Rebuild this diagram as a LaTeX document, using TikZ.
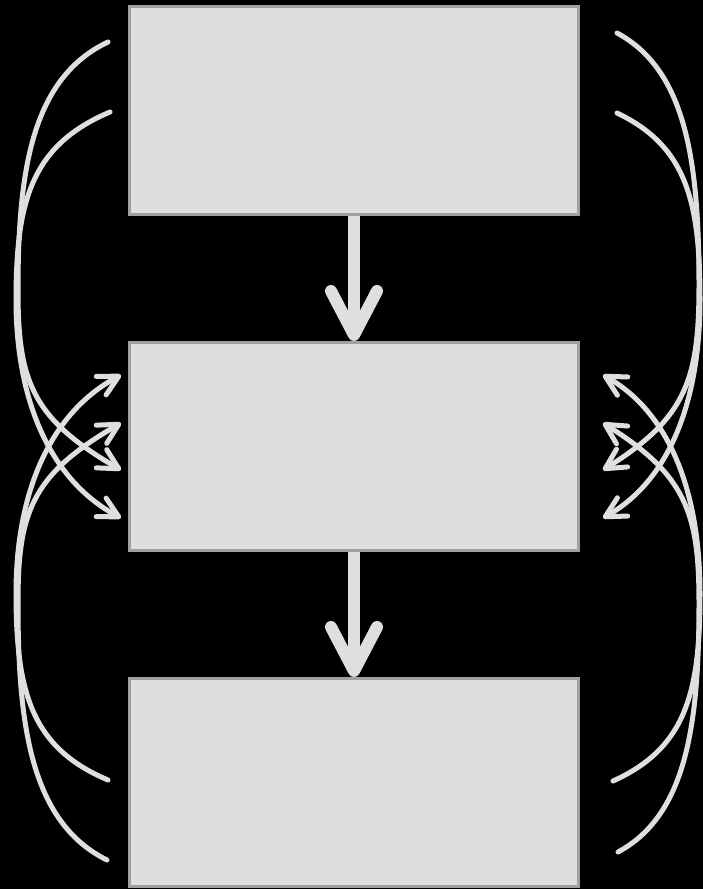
\documentclass[tikz,border=0pt]{standalone}
\usetikzlibrary{arrows.meta}
\definecolor{boxfill}{HTML}{DDDDDD}
\definecolor{boxline}{HTML}{A0A0A0}
\definecolor{linkc}{HTML}{DFDFDF}
\begin{document}
\begin{tikzpicture}[x=1pt,y=-1pt,
  box/.style={draw=boxline, fill=boxfill, line width=3pt, minimum width=449pt, minimum height=208pt, inner sep=0pt},
  flow/.style={draw=linkc, line width=12pt, -{Straight Barb[length=44pt,width=46pt,round]}},
  loopline/.style={draw=linkc, line width=5pt, line cap=round, -{Straight Barb[length=20pt,width=21pt,round]}}]
\fill[black] (0,0) rectangle (703,889);
\useasboundingbox (0,0) rectangle (703,889);
\node[box] (b1) at (354,110.5) {};
\node[box] (b2) at (354,446.5) {};
\node[box] (b3) at (354,782.5) {};
\draw[flow] (b1.south) -- (b2.north);
\draw[flow] (b2.south) -- (b3.north);
% left side
\coordinate (ls1) at (108,42);
\coordinate (ls2) at (110,112);
\coordinate (ls3) at (108,780);
\coordinate (ls4) at (107,860);
\coordinate (lt1) at (121,375);
\coordinate (lt2) at (121,423);
\coordinate (lt3) at (121,470);
\coordinate (lt4) at (121,518);
\draw[loopline] (ls1) .. controls (32,78) and (18,170) .. (18,290) .. controls (18,380) and (31,418) .. (lt3);
\draw[loopline] (ls2) .. controls (32,145) and (16,200) .. (16,300) .. controls (16,400) and (50,480) .. (lt4);
\draw[loopline] (ls4) .. controls (30,822) and (18,723) .. (18,603) .. controls (18,513) and (31,475) .. (lt2);
\draw[loopline] (ls3) .. controls (32,748) and (16,693) .. (16,593) .. controls (16,493) and (50,413) .. (lt1);
% right side
\coordinate (rs1) at (617,33);
\coordinate (rs2) at (617,113);
\coordinate (rs3) at (613,781);
\coordinate (rs4) at (618,852);
\coordinate (rt1) at (603,375);
\coordinate (rt2) at (603,423);
\coordinate (rt3) at (603,470);
\coordinate (rt4) at (603,518);
\draw[loopline] (rs1) .. controls (686,70) and (699,161) .. (699,285) .. controls (699,380) and (686,418) .. (rt3);
\draw[loopline] (rs2) .. controls (686,146) and (700,200) .. (700,300) .. controls (700,400) and (670,480) .. (rt4);
\draw[loopline] (rs4) .. controls (687,815) and (699,723) .. (699,603) .. controls (699,513) and (686,475) .. (rt2);
\draw[loopline] (rs3) .. controls (686,748) and (700,693) .. (700,593) .. controls (700,493) and (670,413) .. (rt1);
\end{tikzpicture}
\end{document}
